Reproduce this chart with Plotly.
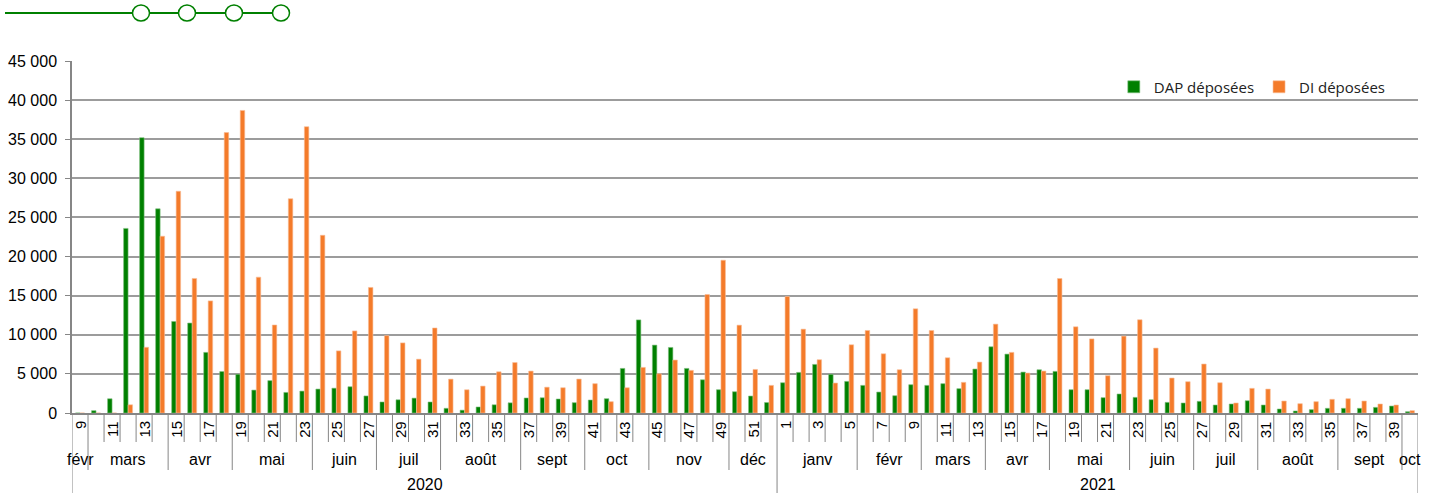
import plotly.graph_objects as go

# ---------------- data ----------------
weeks_2020 = [9, 10, 11, 12, 13, 14, 15, 16, 17, 18, 19, 20, 21, 22, 23, 24, 25, 26, 27, 28,
              29, 30, 31, 32, 33, 34, 35, 36, 37, 38, 39, 40, 41, 42, 43, 44, 45, 46, 47, 48,
              49, 50, 51, 52]
weeks_2021 = [1, 2, 3, 4, 5, 6, 7, 8, 9, 10, 11, 12, 13, 14, 15, 16, 17, 18, 19, 20,
              21, 22, 23, 24, 25, 26, 27, 28, 29, 30, 31, 32, 33, 34, 35, 36, 37, 38, 39, 40]

dap_2020 = [0, 300, 1820, 23600, 35200, 26100, 11700, 11500, 7750, 5300,
            4950, 2930, 4140, 2630, 2800, 3060, 3170, 3360, 2180, 1410,
            1690, 1900, 1410, 600, 360, 770, 1050, 1300, 1920, 1950,
            1790, 1320, 1660, 1830, 5700, 11900, 8680, 8380, 5700, 4250,
            2980, 2720, 2170, 1340]
di_2020 = [0, 0, 0, 1050, 8400, 22600, 28350, 17200, 14330, 35850,
           38680, 17370, 11250, 27390, 36600, 22720, 7940, 10490, 16050, 9890,
           8960, 6880, 10870, 4330, 2970, 3440, 5270, 6450, 5360, 3300,
           3230, 4340, 3750, 1450, 3230, 5830, 5020, 6770, 5450, 15150,
           19530, 11230, 5570, 3530]
dap_2021 = [3870, 5190, 6210, 4940, 4040, 3530, 2680, 2210, 3620, 3530,
            3750, 3110, 5620, 8470, 7530, 5230, 5530, 5320, 2980, 2980,
            1960, 2430, 2000, 1700, 1360, 1280, 1490, 1020, 1150, 1570,
            1020, 510, 260, 430, 600, 600, 600, 720, 890, 170]
di_2021 = [14890, 10720, 6810, 3830, 8720, 10550, 7570, 5530, 13320, 10550,
           7060, 3920, 6510, 11360, 7750, 5110, 5360, 17190, 11020, 9470,
           4770, 9830, 11920, 8300, 4470, 4000, 6260, 3870, 1280, 3150,
           3060, 1530, 1190, 1450, 1750, 1830, 1530, 1150, 1020, 300]

months_2020 = ["févr", "mars", "avr", "mai", "juin", "juil", "août", "sept", "oct", "nov", "déc"]
month_weeks_2020 = [1, 5, 4, 5, 4, 4, 5, 4, 4, 5, 3]
months_2021 = ["janv", "févr", "mars", "avr", "mai", "juin", "juil", "août", "sept", "oct"]
month_weeks_2021 = [5, 4, 4, 4, 5, 4, 4, 5, 4, 1]
years = ["2020", "2021"]

y_ticks = [0, 5000, 10000, 15000, 20000, 25000, 30000, 35000, 40000, 45000]

series_names = ["DAP déposées", "DI déposées"]
series_colors = ["#008000", "#F47B2A"]
series_edges = ["#7FC07F", "#F9BE98"]

# ---------------- build ----------------
cats = [f"2020-S{w}" for w in weeks_2020] + [f"2021-S{w}" for w in weeks_2021]
week_labels = weeks_2020 + weeks_2021
dap = dap_2020 + dap_2021
di = di_2020 + di_2021
n = len(cats)

fig = go.Figure()
for name, vals, col, edge in zip(series_names, [dap, di], series_colors, series_edges):
    fig.add_trace(go.Bar(x=cats, y=vals, name=name,
                         marker=dict(color=col, line=dict(color=edge, width=0.6))))

base_family = "Liberation Sans, Arial, sans-serif"
tick_font = dict(family=base_family, size=16, color="#000000")
week_font = dict(family=base_family, size=15, color="#000000")
cat_font = dict(family=base_family, size=16, color="#000000")
axis_gray = "#868686"

annotations = []
shapes = []

# week labels (every other category)
for i in range(0, n, 2):
    annotations.append(dict(x=cats[i], y=0, xref="x", yref="paper", yshift=-6,
                            text=str(week_labels[i]), showarrow=False, textangle=-90,
                            xanchor="center", yanchor="top", font=week_font))

# week separators (every category boundary)
for k in range(n + 1):
    shapes.append(dict(type="line", xref="x", yref="paper", ysizemode="pixel", yanchor=0,
                       x0=k - 0.5, x1=k - 0.5, y0=0, y1=-29,
                       line=dict(color=axis_gray, width=1)))

# month labels + separators
start = 0
year_bounds = [0]
for months, counts in [(months_2020, month_weeks_2020), (months_2021, month_weeks_2021)]:
    for m, c in zip(months, counts):
        mid = start + (c - 1) / 2
        annotations.append(dict(x=mid, y=0, xref="x", yref="paper", yshift=-46,
                                text=m, showarrow=False, xanchor="center", yanchor="middle",
                                font=cat_font))
        shapes.append(dict(type="line", xref="x", yref="paper", ysizemode="pixel", yanchor=0,
                           x0=start - 0.5, x1=start - 0.5, y0=-29, y1=-57,
                           line=dict(color=axis_gray, width=1)))
        start += c
    year_bounds.append(start)
shapes.append(dict(type="line", xref="x", yref="paper", ysizemode="pixel", yanchor=0,
                   x0=start - 0.5, x1=start - 0.5, y0=-29, y1=-57,
                   line=dict(color=axis_gray, width=1)))

# year labels + separators
for j, yr in enumerate(years):
    a, b = year_bounds[j], year_bounds[j + 1]
    annotations.append(dict(x=(a + b - 1) / 2, y=0, xref="x", yref="paper", yshift=-71,
                            text=yr, showarrow=False, xanchor="center", yanchor="middle",
                            font=cat_font))
for b in year_bounds:
    shapes.append(dict(type="line", xref="x", yref="paper", ysizemode="pixel", yanchor=0,
                       x0=b - 0.5, x1=b - 0.5, y0=-57, y1=-80,
                       line=dict(color=axis_gray, width=1)))

# decorative header (line with four circles), pixel-positioned from plot's top-left
deco_green = "#008000"
shapes.append(dict(type="line", xref="paper", yref="paper", xsizemode="pixel", ysizemode="pixel",
                   xanchor=0, yanchor=1, x0=-67, x1=209, y0=48, y1=48,
                   line=dict(color=deco_green, width=2.2), layer="above"))
for cx in [69, 115, 162, 209]:
    shapes.append(dict(type="circle", xref="paper", yref="paper", xsizemode="pixel",
                       ysizemode="pixel", xanchor=0, yanchor=1,
                       x0=cx - 8.5, x1=cx + 8.5, y0=48 - 8, y1=48 + 8,
                       fillcolor="white", line=dict(color=deco_green, width=1.5),
                       layer="above"))

fig.update_layout(
    width=1434, height=495,
    margin=dict(l=72, r=16, t=61, b=82),
    paper_bgcolor="white", plot_bgcolor="white",
    barmode="group", bargap=0.44, bargroupgap=0,
    showlegend=True,
    legend=dict(orientation="h", x=0.774, y=0.926, xanchor="left", yanchor="middle",
                font=dict(family="Open Sans, Noto Sans, sans-serif", size=15, color="#222222"),
                bgcolor="rgba(0,0,0,0)", itemwidth=30, traceorder="normal"),
    annotations=annotations,
    shapes=shapes,
    xaxis=dict(type="category", categoryorder="array", categoryarray=cats,
               range=[-0.5, n - 0.5], showticklabels=False, ticks="", automargin=False,
               showgrid=False, zeroline=False, showline=True, linecolor=axis_gray,
               linewidth=1.5),
    yaxis=dict(range=[0, 45000], tickvals=y_ticks, automargin=False,
               ticktext=[f"{v:,}".replace(",", " ") for v in y_ticks],
               showgrid=True, gridcolor="#9C9C9C", gridwidth=1.5,
               zeroline=False, showline=True, linecolor=axis_gray, linewidth=1.5,
               ticks="outside", ticklen=5, tickcolor=axis_gray,
               ticklabelstandoff=5, tickfont=tick_font),
)

fig.write_html("out.html", config={"displayModeBar": False},
               post_script="document.body.style.margin='0';document.body.style.overflow='hidden';")
